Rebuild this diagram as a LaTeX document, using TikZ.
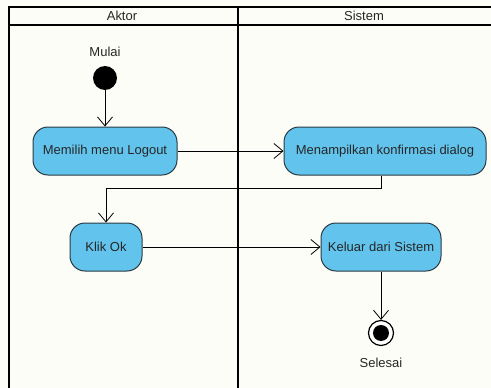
\documentclass[tikz,border=0pt]{standalone}
\usepackage{fontspec}
\setmainfont{Liberation Sans}
\usetikzlibrary{arrows.meta}
\definecolor{pagebg}{HTML}{FDFDF7}
\definecolor{actfill}{HTML}{62C4EC}
\definecolor{actline}{HTML}{2A3A44}
\tikzset{
  lane/.style={draw=black, line width=1.5pt},
  activity/.style={draw=actline, line width=1pt, fill=actfill, rounded corners=15pt,
    minimum height=48pt, inner sep=2pt, font=\fontsize{13}{15}\selectfont, text=black!85},
  flow/.style={draw=black, line width=0.8pt},
  flowarrow/.style={flow, -{Straight Barb[length=9pt,width=15pt,line width=0.8pt]}},
  lbl/.style={font=\fontsize{13}{15}\selectfont, text=black!85}
}
\begin{document}
\begin{tikzpicture}[x=1pt,y=-1pt]
  \useasboundingbox (0,0) rectangle (491,388);
  \fill[pagebg] (0,0) rectangle (491,388);

  % swimlane frame and headers
  \draw[lane] (9,390) -- (9,7) -- (493,7);
  \draw[lane] (9,25) -- (493,25);
  \draw[lane] (238,7) -- (238,390);
  \node[lbl] (hAktor) at (122,16) {Aktor};
  \node[lbl] (hSistem) at (364,16) {Sistem};

  % start node
  \node[lbl] (mulai) at (105,52) {Mulai};
  \node[circle, fill=black, minimum size=24pt, inner sep=0pt] (start) at (105,78) {};

  % activities
  \node[activity, minimum width=144pt] (logout) at (105,151) {Memilih menu Logout};
  \node[activity, minimum width=202pt] (konfirm) at (385,151) {Menampilkan konfirmasi dialog};
  \node[activity, minimum width=72pt] (klik) at (106,247) {Klik Ok};
  \node[activity, minimum width=120pt] (keluar) at (381,247) {Keluar dari Sistem};

  % end node
  \node[circle, draw=black, line width=1.2pt, fill=white, minimum size=25pt, inner sep=0pt] (end) at (381,333) {};
  \fill[black] (end.center) circle (8pt);
  \node[lbl] (selesai) at (381,363) {Selesai};

  % control flows
  \draw[flowarrow] (start) -- (logout);
  \draw[flowarrow] (logout) -- (konfirm);
  \coordinate (bendA) at (381,188);
  \coordinate (bendB) at (106,188);
  \draw[flowarrow] (konfirm.south -| bendA) -- (bendA) -- (bendB) -- (klik);
  \draw[flowarrow] (klik) -- (keluar);
  \draw[flowarrow] (keluar) -- (end);
\end{tikzpicture}
\end{document}
